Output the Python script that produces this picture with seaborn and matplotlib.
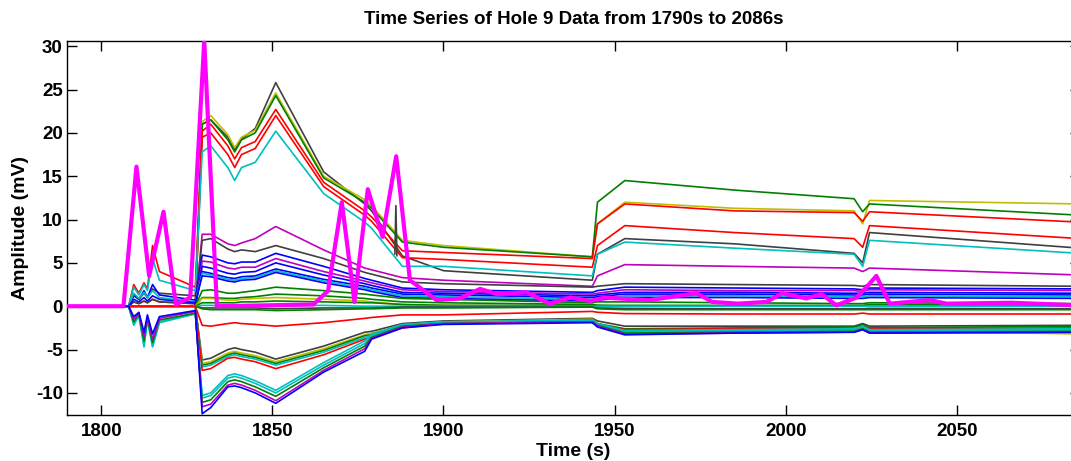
import numpy as np
import pandas as pd
import matplotlib
matplotlib.use("Agg")
import matplotlib.pyplot as plt
import seaborn as sns

# knot times (s) shared by every electrode trace
early_t = [1790, 1808, 1809.5, 1811, 1812.5, 1813.5, 1815, 1817, 1827.5]
late_t = [1829.5, 1832, 1837, 1839, 1841, 1845, 1851, 1865, 1877, 1879, 1888, 1900,
          1943.5, 1945, 1953, 1985, 2020, 2022.5, 2024.5, 2086]

# MATLAB default colour cycle
C_B = (0, 0, 1)
C_G = (0, 0.5, 0)
C_R = (1, 0, 0)
C_C = (0, 0.75, 0.75)
C_M = (0.75, 0, 0.75)
C_Y = (0.75, 0.75, 0)
C_K = (0.25, 0.25, 0.25)

# upper bundle (peaks ~20-26 mV near 1851 s)
upper_colors = [C_K, C_Y, C_G, C_R, C_R, C_C]
upper_early = [
    [0, 0, 1.2, 0.8, 1.5, 1.0, 2.0, 1.5, 1.2],
    [0, 0, 0, 0, 0, 0, 0, 0, 0],
    [0, 0, 0, 0, 0, 0, 0, 0, 0],
    [0, 0, 2.5, 1.5, 2.7, 2.0, 7.0, 4.0, 2.2],
    [0, 0, 0.5, 0.3, 0.6, 0.4, 0.8, 0.5, 0.3],
    [0, 0, 2.2, 1.3, 2.5, 1.8, 5.5, 3.0, 1.8],
]
upper_late = [
    [21.0, 21.5, 19.5, 18.0, 19.3, 20.5, 25.8, 15.5, 11.8, 11.0, 5.8, 4.1, 3.0, 6.0, 7.8, 7.2, 6.1, 5.0, 8.5, 6.7],
    [21.3, 22.0, 19.8, 18.3, 19.5, 20.3, 24.6, 15.0, 12.3, 11.6, 7.6, 7.0, 5.7, 9.5, 12.0, 11.3, 11.0, 9.5, 12.2, 11.8],
    [21.0, 21.5, 19.2, 17.8, 19.2, 20.0, 24.3, 14.8, 12.0, 11.3, 7.4, 6.8, 5.7, 12.0, 14.5, 13.4, 12.4, 10.9, 11.8, 10.5],
    [20.2, 21.0, 18.5, 17.0, 18.3, 19.0, 22.7, 14.3, 11.0, 10.3, 6.4, 6.2, 5.5, 9.5, 11.8, 11.0, 10.8, 9.8, 10.9, 9.7],
    [19.5, 20.0, 17.5, 16.0, 17.5, 18.2, 22.0, 13.8, 10.5, 9.8, 5.6, 5.4, 4.5, 7.0, 9.3, 8.5, 7.8, 6.8, 9.3, 7.8],
    [17.8, 18.5, 16.0, 14.5, 16.0, 16.6, 20.2, 13.0, 9.7, 9.0, 4.6, 4.6, 3.5, 6.0, 7.4, 6.7, 6.0, 4.6, 7.6, 6.1],
]

# middle bundle (3-9 mV near 1851 s, blue band later)
mid_colors = [C_M, C_K, C_B, C_M, C_B, C_B, C_C, C_B]
mid_early = [
    [0, 0, 0, 0, 0, 0, 0, 0, 0],
    [0, 0, 0.5, 0.3, 0.6, 0.4, 0.8, 0.5, 0.3],
    [0, 0, 1.3, 0.8, 1.8, 1.0, 2.5, 1.3, 0.7],
    [0, 0, 0, 0, 0, 0, 0, 0, 0],
    [0, 0, 0, 0, 0, 0, 0, 0, 0],
    [0, 0, 0, 0, 0, 0, 0, 0, 0],
    [0, 0, 1.5, 0.9, 1.6, 1.0, 1.8, 1.0, 0.5],
    [0, 0, 0.8, 0.5, 1.0, 0.6, 1.2, 0.8, 0.4],
]
mid_late = [
    [8.3, 8.3, 7.2, 7.0, 7.3, 7.8, 9.2, 6.5, 4.4, 4.2, 3.3, 3.0, 2.3, 3.5, 4.8, 4.6, 4.4, 4.0, 4.4, 3.6],
    [7.6, 7.8, 6.6, 6.3, 6.5, 6.3, 7.0, 5.5, 3.9, 3.7, 2.8, 2.6, 2.2, 2.3, 2.6, 2.5, 2.4, 2.3, 2.5, 2.3],
    [5.9, 5.7, 5.0, 4.9, 5.1, 5.1, 6.1, 4.6, 3.2, 3.0, 2.1, 1.9, 1.6, 1.8, 2.2, 2.1, 2.0, 1.9, 2.1, 2.0],
    [5.2, 5.1, 4.4, 4.3, 4.5, 4.5, 5.5, 4.0, 2.9, 2.7, 1.9, 1.7, 1.4, 1.5, 1.9, 1.8, 1.8, 1.7, 1.9, 1.8],
    [4.6, 4.4, 3.8, 3.7, 3.9, 4.0, 5.0, 3.6, 2.6, 2.4, 1.6, 1.5, 1.2, 1.3, 1.6, 1.6, 1.5, 1.5, 1.6, 1.5],
    [4.0, 3.8, 3.3, 3.2, 3.4, 3.5, 4.3, 3.1, 2.3, 2.1, 1.4, 1.3, 1.0, 1.1, 1.4, 1.4, 1.3, 1.3, 1.4, 1.3],
    [3.8, 3.6, 3.1, 3.0, 3.2, 3.3, 4.1, 2.9, 2.1, 1.9, 1.2, 1.1, 0.8, 0.9, 1.2, 1.2, 1.1, 1.1, 1.2, 1.1],
    [3.5, 3.4, 2.9, 2.8, 3.0, 3.1, 3.9, 2.7, 1.9, 1.7, 1.0, 0.9, 0.6, 0.7, 1.0, 1.0, 0.9, 0.9, 1.0, 0.9],
]

# traces that stay close to zero
zero_colors = [C_G, C_G, C_Y, C_G, C_C, C_K, C_G, C_R]
zero_late = [
    [1.8, 1.9, 1.5, 1.5, 1.6, 1.8, 2.2, 1.8, 1.4, 1.3, 0.9, 0.8, 0.4, 0.5, 0.5, 0.4, 0.3, 0.3, 0.4, 0.3],
    [1.0, 1.0, 0.9, 0.9, 1.0, 1.1, 1.4, 1.2, 0.9, 0.8, 0.5, 0.4, 0.2, 0.1, 0.1, 0.1, 0.1, 0.1, 0.2, 0.1],
    [0.9, 0.9, 0.7, 0.7, 0.8, 0.9, 1.0, 0.8, 0.6, 0.5, 0.2, 0.1, 0.0, -0.1, -0.2, -0.3, -0.3, -0.3, -0.2, -0.3],
    [0.4, 0.4, 0.4, 0.4, 0.5, 0.5, 0.6, 0.5, 0.4, 0.4, 0.2, 0.1, 0.1, 0.1, 0.0, 0.0, 0.0, 0.0, 0.0, 0.0],
    [0.1, 0.1, 0.0, 0.0, 0.0, 0.0, 0.1, 0.1, 0.0, 0.0, 0.0, 0.0, 0.0, 0.0, 0.0, 0.0, 0.0, 0.0, 0.0, 0.0],
    [-0.2, -0.2, -0.2, -0.2, -0.2, -0.2, -0.3, -0.2, -0.2, -0.2, -0.1, -0.1, -0.1, -0.2, -0.3, -0.3, -0.3, -0.3, -0.3, -0.3],
    [-0.3, -0.4, -0.4, -0.4, -0.4, -0.4, -0.5, -0.4, -0.3, -0.3, -0.2, -0.2, -0.1, -0.3, -0.4, -0.4, -0.4, -0.4, -0.4, -0.4],
    [-2.2, -2.3, -2.0, -1.9, -2.0, -2.1, -2.3, -1.9, -1.4, -1.3, -1.0, -1.0, -0.6, -0.7, -0.85, -0.9, -0.9, -0.8, -0.9, -0.9],
]

# negative bundle A (-5 to -7 mV near 1851 s)
negA_colors = [C_K, C_Y, C_G, C_C, C_R]
negA_late = [
    [-6.2, -6.0, -5.0, -4.8, -5.0, -5.3, -6.1, -4.6, -3.0, -2.9, -2.0, -1.7, -1.4, -1.7, -2.3, -2.3, -2.3, -2.0, -2.3, -2.2],
    [-6.6, -6.4, -5.4, -5.2, -5.4, -5.7, -6.4, -4.9, -3.3, -3.1, -2.2, -1.8, -1.5, -2.0, -2.8, -2.7, -2.6, -2.3, -2.8, -3.2],
    [-6.8, -6.6, -5.6, -5.4, -5.6, -5.9, -6.6, -5.1, -3.4, -3.3, -2.3, -1.9, -1.6, -2.0, -2.6, -2.5, -2.4, -2.1, -2.5, -2.3],
    [-7.0, -6.8, -5.8, -5.6, -5.8, -6.1, -6.8, -5.3, -3.6, -3.4, -2.4, -2.0, -1.7, -2.2, -2.9, -2.8, -2.7, -2.4, -2.8, -2.7],
    [-7.4, -7.2, -6.0, -5.9, -6.1, -6.4, -7.2, -5.6, -3.8, -3.6, -2.5, -2.0, -1.8, -2.1, -2.7, -2.6, -2.6, -2.3, -2.6, -2.5],
]

# negative bundle B (-10 to -12 mV near 1851 s), with early dips
negB_colors = [C_C, C_C, C_G, C_M, C_B]
negB_early = [
    [0, 0, -2.0, -1.0, -4.7, -1.5, -4.7, -1.8, -0.8],
    [0, 0, -2.2, -1.1, -4.5, -1.6, -4.6, -1.9, -0.9],
    [0, 0, -1.8, -0.9, -4.0, -1.4, -4.2, -1.6, -0.8],
    [0, 0, -1.5, -0.8, -3.5, -1.2, -3.8, -1.4, -0.6],
    [0, 0, -1.2, -0.7, -3.0, -1.0, -3.2, -1.2, -0.5],
]
negB_late = [
    [-10.3, -10.0, -8.0, -7.8, -8.0, -8.6, -9.7, -6.5, -4.0, -3.2, -2.1, -1.8, -1.6, -2.0, -2.8, -2.7, -2.6, -2.3, -2.7, -2.6],
    [-10.6, -10.3, -8.3, -8.1, -8.3, -8.9, -10.0, -6.8, -4.3, -3.4, -2.2, -1.9, -1.7, -2.1, -3.0, -2.9, -2.8, -2.5, -2.9, -2.8],
    [-11.1, -10.8, -8.7, -8.5, -8.7, -9.3, -10.4, -7.1, -4.6, -3.6, -2.3, -2.0, -1.8, -2.2, -3.1, -3.0, -2.9, -2.6, -3.0, -2.9],
    [-11.6, -11.3, -9.1, -8.9, -9.1, -9.7, -10.9, -7.4, -4.9, -3.7, -2.4, -2.0, -1.8, -2.3, -3.2, -3.1, -3.0, -2.7, -3.1, -3.0],
    [-12.4, -11.7, -9.3, -9.2, -9.4, -10.0, -11.2, -7.6, -5.2, -3.8, -2.5, -2.1, -1.9, -2.4, -3.3, -3.1, -3.0, -2.7, -3.1, -3.0],
]

# short glitch on one trace near 1886 s
glitch_t = [1885.8, 1886.1, 1886.4]
glitch_v = [6.0, 11.6, 5.8]

# the thick magenta channel
mag_t = [1790, 1806.5, 1810.3, 1814.0, 1818.2, 1821.8, 1826.0, 1830.1, 1833.8, 1862.0,
         1866.3, 1870.3, 1874.0, 1877.9, 1882.2, 1886.2, 1890.2, 1898.0, 1904.8, 1910.7,
         1915.6, 1924.3, 1931.0, 1937.0, 1943.0, 1947.0, 1960.0, 1974.0, 1978.5, 1986.0,
         1994.4, 1999.0, 2006.0, 2010.5, 2014.8, 2020.7, 2023.6, 2026.5, 2030.4, 2042.0,
         2047.0, 2066.0, 2086.0]
mag_v = [0, 0, 16.1, 3.5, 10.9, 0.2, 1.0, 30.6, 0.0, 0.2,
         1.8, 12.0, 0.5, 13.5, 8.0, 17.3, 3.0, 0.7, 0.9, 2.0,
         1.4, 1.6, 0.3, 1.0, 0.6, 1.0, 0.7, 1.5, 0.5, 0.3,
         0.5, 1.5, 0.9, 1.4, 0.1, 1.0, 2.2, 3.5, 0.3, 0.7,
         0.3, 0.4, 0.1]

zeros_early = [0, 0, 0, 0, 0, 0, 0, 0, 0]

# build long-form table
rows = []
palette = {}
groups = [
    ("u", upper_colors, upper_early, upper_late),
    ("m", mid_colors, mid_early, mid_late),
    ("z", zero_colors, [zeros_early] * len(zero_late), zero_late),
    ("a", negA_colors, [zeros_early] * len(negA_late), negA_late),
    ("b", negB_colors, negB_early, negB_late),
]
for prefix, colors, early, late in groups:
    for i, (col, e, l) in enumerate(zip(colors, early, late)):
        name = f"{prefix}{i}"
        palette[name] = col
        for t, v in zip(early_t + late_t, e + l):
            rows.append({"time": t, "amp": v, "trace": name})
df = pd.DataFrame(rows)

sns.set_style("ticks")
plt.rcParams["font.family"] = ["Liberation Sans", "DejaVu Sans"]
plt.rcParams["font.weight"] = "bold"
plt.rcParams["axes.unicode_minus"] = False
plt.rcParams["text.color"] = "black"
plt.rcParams["axes.labelcolor"] = "black"

fig = plt.figure(figsize=(10.71, 4.61), dpi=100)
ax = fig.add_axes([67 / 1071, 1 - 415 / 461, (1080 - 67) / 1071, (415 - 41) / 461])

sns.lineplot(data=df, x="time", y="amp", hue="trace", palette=palette,
             estimator=None, sort=False, legend=False, linewidth=1.2, ax=ax)
sns.lineplot(x=glitch_t, y=glitch_v, color=C_K, estimator=None, sort=False,
             linewidth=1.2, ax=ax)
sns.lineplot(x=mag_t, y=mag_v, color=(1, 0, 1), estimator=None, sort=False,
             linewidth=3.0, ax=ax, zorder=5)

ax.set_xlim(1790, 2086)
ax.set_ylim(-12.55, 30.6)
ax.set_xticks(np.arange(1800, 2051, 50))
ax.set_yticks(np.arange(-10, 31, 5))
ax.tick_params(direction="in", length=7, width=1, top=True, right=True,
               labelsize=13.5, colors="black")
ax.tick_params(axis="x", pad=6)
ax.tick_params(axis="y", pad=3)
for lbl in ax.get_xticklabels() + ax.get_yticklabels():
    lbl.set_fontweight("bold")
for sp in ax.spines.values():
    sp.set_visible(True)
    sp.set_linewidth(1.0)
    sp.set_color("black")

ax.set_xlabel("Time (s)", fontsize=14, fontweight="bold", labelpad=2)
ax.set_ylabel("Amplitude (mV)", fontsize=14, fontweight="bold", labelpad=5)
ax.set_title("Time Series of Hole 9 Data from 1790s to 2086s", fontsize=13.5,
             fontweight="bold", color="black", pad=12)

fig.savefig("out.png", dpi=100)
